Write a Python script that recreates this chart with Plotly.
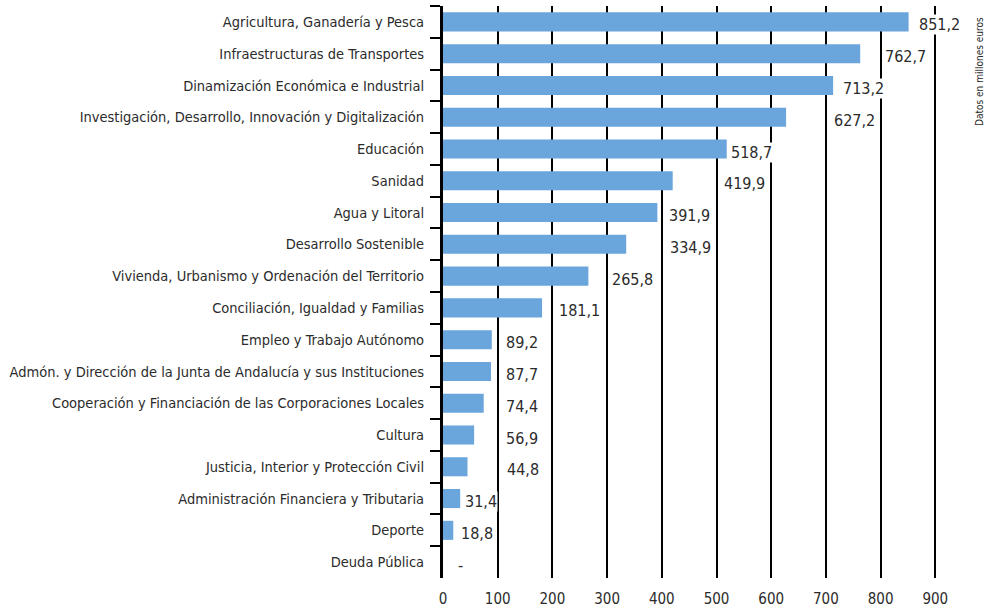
import plotly.graph_objects as go

# Presupuesto por política de gasto (millones de euros)
categories = [
    'Agricultura, Ganadería y Pesca',
    'Infraestructuras de Transportes',
    'Dinamización Económica e Industrial',
    'Investigación, Desarrollo, Innovación y Digitalización',
    'Educación',
    'Sanidad',
    'Agua y Litoral',
    'Desarrollo Sostenible',
    'Vivienda, Urbanismo y Ordenación del Territorio',
    'Conciliación, Igualdad y Familias',
    'Empleo y Trabajo Autónomo',
    'Admón. y Dirección de la Junta de Andalucía y sus Instituciones',
    'Cooperación y Financiación de las Corporaciones Locales',
    'Cultura',
    'Justicia, Interior y Protección Civil',
    'Administración Financiera y Tributaria',
    'Deporte',
    'Deuda Pública',
]
values = [851.2, 762.7, 713.2, 627.2, 518.7, 419.9, 391.9, 334.9, 265.8,
          181.1, 89.2, 87.7, 74.4, 56.9, 44.8, 31.4, 18.8, 0]
tick_vals = [0, 100, 200, 300, 400, 500, 600, 700, 800, 900]

# pixel nudge of each value label from its bar end (as in the original layout)
label_nudge = [9, 24, 9, 47, 3, 50, 11, 43, 23, 16, 13, 14, 21, 31, 38, 4, 7, 14]

FONT = 'DejaVu Sans Condensed, sans-serif'
TEXT = '#2b2b2b'
BAR = '#6aa5db'


def fmt(v):
    if v == 0:
        return '-'
    return f'{v:.1f}'.replace('.', ',')


def font(size):
    return dict(family=FONT, size=size, color=TEXT)


fig = go.Figure()
fig.add_trace(go.Bar(x=values, y=categories, orientation='h',
                     marker=dict(color=BAR, line=dict(width=0)),
                     hoverinfo='x+y'))

for cat, v, dx in zip(categories, values, label_nudge):
    fig.add_annotation(x=v, y=cat, text=fmt(v), showarrow=False,
                       xanchor='left', yanchor='middle', xshift=dx, yshift=-3,
                       bgcolor='white', borderpad=0, font=font(16))

fig.add_annotation(x=0.982, y=0.885, xref='paper', yref='paper',
                   xanchor='center', yanchor='middle',
                   text='Datos en millones euros', textangle=-90, showarrow=False,
                   font=font(10))

fig.update_layout(
    width=995, height=612,
    margin=dict(l=443, r=5, t=6, b=34, autoexpand=False),
    plot_bgcolor='white', paper_bgcolor='white',
    bargap=0.4, showlegend=False,
    font=font(14.5),
)
fig.update_xaxes(range=[0, 1000], tickvals=tick_vals, showgrid=True,
                 gridcolor='black', gridwidth=1.5, zeroline=False, showline=False,
                 ticks='', ticklabelstandoff=10, tickfont=font(15), automargin=False)
fig.update_yaxes(autorange='reversed', showline=True, linecolor='black', linewidth=3,
                 ticks='outside', tickson='boundaries', ticklen=10, tickwidth=2,
                 tickcolor='black', ticklabelstandoff=13, showgrid=False,
                 tickfont=font(14.5), automargin=False)

fig.write_html('out.html', config={'displayModeBar': False},
               post_script="document.body.style.margin='0';")
